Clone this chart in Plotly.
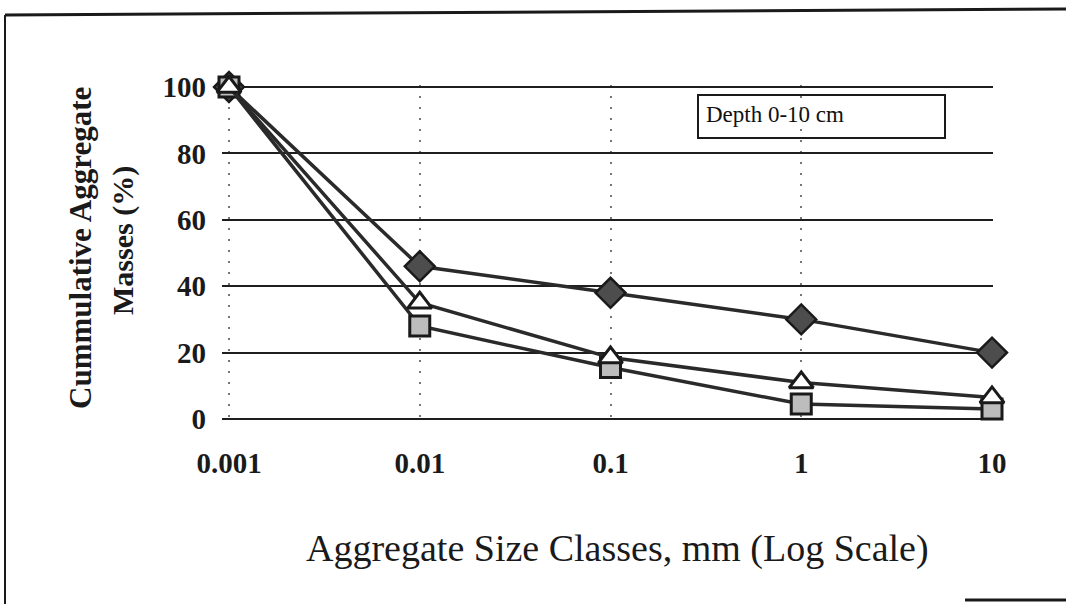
import plotly.graph_objects as go

size_mm = [0.001, 0.01, 0.1, 1, 10]
series_diamond = [100, 46, 38, 30, 20]
series_triangle = [100, 35, 18.5, 11, 6.5]
series_square = [100, 28, 15.5, 4.5, 3]
x_ticks = [0.001, 0.01, 0.1, 1, 10]
x_tick_labels = ["0.001", "0.01", "0.1", "1", "10"]
y_ticks = [0, 20, 40, 60, 80, 100]

# plot-area pixel frame (for paper-coordinate helpers)
L, R, T, B = 222, 993, 85, 421
W, H = 1066, 604


def px(x):
    return (x - L) / (R - L)


def py(y):
    return (B - y) / (B - T)


fig = go.Figure()
line = dict(color="#2a2a2a", width=3.5)
fig.add_trace(go.Scatter(x=size_mm, y=series_diamond, mode="lines+markers", line=line,
                         marker=dict(symbol="diamond", size=23, color="#4d4d4d",
                                     line=dict(color="#1a1a1a", width=2.5)),
                         cliponaxis=False, name="Diamond"))
fig.add_trace(go.Scatter(x=size_mm, y=series_square, mode="lines+markers", line=line,
                         marker=dict(symbol="square", size=20, color="#bdbdbd",
                                     line=dict(color="#1a1a1a", width=3)),
                         cliponaxis=False, name="Square"))
fig.add_trace(go.Scatter(x=size_mm, y=series_triangle, mode="lines+markers", line=line,
                         marker=dict(symbol="triangle-up", size=21, color="white",
                                     line=dict(color="#1a1a1a", width=3)),
                         cliponaxis=False, name="Triangle"))

tickfont = dict(family="Liberation Serif", size=29, color="#1a1a1a")
fig.update_xaxes(type="log", range=[-3.0367, 1.0052], tickvals=x_ticks,
                 ticktext=["<b>%s</b>" % t for t in x_tick_labels],
                 showgrid=True, gridcolor="#777777", griddash="2px,9px", gridwidth=2,
                 zeroline=False, showline=False, ticks="", tickfont=tickfont,
                 ticklabelstandoff=22)
fig.update_yaxes(range=[-0.6, 100.6], tickvals=y_ticks,
                 ticktext=["<b>%d</b>" % t for t in y_ticks],
                 showgrid=True, gridcolor="#1e1e1e",
                 gridwidth=1.8, zeroline=False, showline=False, ticks="",
                 tickfont=tickfont, ticklabelstandoff=15)

fig.update_layout(
    width=W, height=H,
    margin=dict(l=L, r=W - R, t=T, b=H - B),
    paper_bgcolor="white", plot_bgcolor="white",
    showlegend=False,
    font=dict(family="Liberation Serif", color="#1a1a1a"),
    annotations=[
        dict(text="<b>Cummulative Aggregate</b>", textangle=-90,
             xref="paper", yref="paper", x=px(80), y=py(248),
             xanchor="center", yanchor="middle", showarrow=False,
             font=dict(family="Liberation Serif", size=31, color="#1a1a1a")),
        dict(text="<b>Masses (%)</b>", textangle=-90,
             xref="paper", yref="paper", x=px(123), y=py(241),
             xanchor="center", yanchor="middle", showarrow=False,
             font=dict(family="Liberation Serif", size=30, color="#1a1a1a")),
        dict(text="Aggregate Size Classes, mm (Log Scale)",
             xref="paper", yref="paper", x=px(617), y=py(548),
             xanchor="center", yanchor="middle", showarrow=False,
             font=dict(family="Liberation Serif", size=38, color="#1a1a1a")),
        dict(text="Depth 0-10 cm", xref="paper", yref="paper",
             x=px(704), y=py(114), xanchor="left", yanchor="middle",
             showarrow=False, font=dict(family="Liberation Serif", size=23, color="#111111")),
    ],
    shapes=[
        dict(type="rect", xref="paper", yref="paper",
             x0=px(698), x1=px(945), y0=py(95), y1=py(138),
             line=dict(color="#1a1a1a", width=2), fillcolor="white", layer="below"),
        dict(type="line", xref="paper", yref="paper",
             x0=px(5), x1=px(1066), y0=py(15), y1=py(9),
             line=dict(color="#1a1a1a", width=3)),
        dict(type="line", xref="paper", yref="paper",
             x0=px(5), x1=px(5), y0=py(15), y1=py(604),
             line=dict(color="#1a1a1a", width=2)),
        dict(type="line", xref="paper", yref="paper",
             x0=px(965), x1=px(1066), y0=py(600), y1=py(600),
             line=dict(color="#1a1a1a", width=3)),
    ],
)

fig.write_html("out.html", config={"displayModeBar": False},
               post_script="document.body.style.margin='0';")
